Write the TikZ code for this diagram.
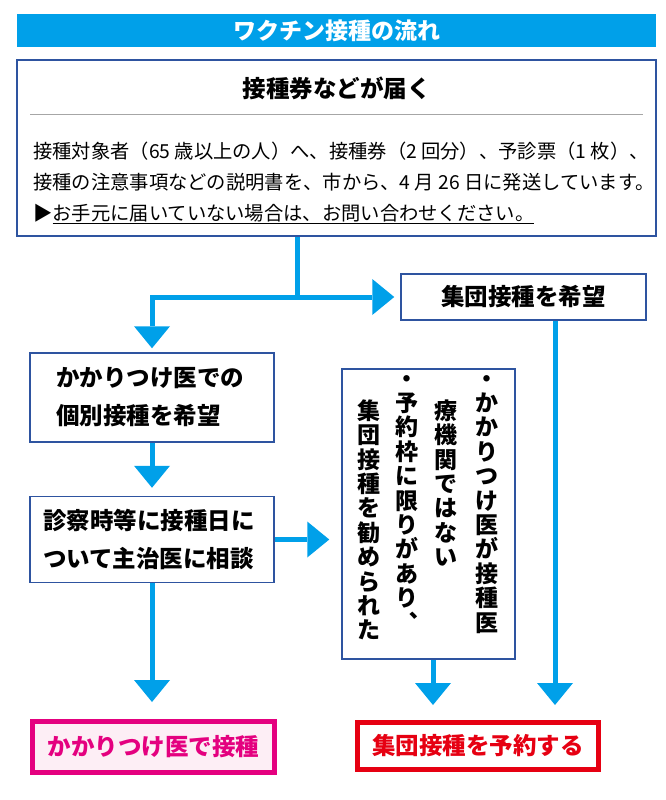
\documentclass[tikz,border=0pt]{standalone}
\usepackage{fontspec}
\usepackage{xcolor}
\usepackage{tikz}
\usetikzlibrary{positioning,arrows.meta}
\newfontfamily\jpfont{Noto Sans CJK JP}

\definecolor{flowcyan}{RGB}{0,160,233}
\definecolor{boxblue}{RGB}{46,84,160}
\definecolor{shotpink}{RGB}{228,0,127}
\definecolor{shotpinkbg}{RGB}{253,238,245}
\definecolor{bookred}{RGB}{230,0,18}

\begin{document}
\begin{tikzpicture}[
			x=1pt, y=1pt,
			panel/.style={draw=boxblue, line width=1.5pt, fill=white, inner sep=0pt},
			stepbox/.style={draw=boxblue, line width=1.5pt, fill=white, align=left, inner ysep=0pt, minimum height=89pt, font=\jpfont\bfseries\fontsize{23.5}{38}\selectfont},
			goal/.style={line width=5pt, inner sep=0pt, font=\jpfont\bfseries\fontsize{23.5}{26}\selectfont},
			column/.style={anchor=north, align=center, inner sep=0pt, font=\jpfont\bfseries\fontsize{23}{24.4}\selectfont},
			link/.style={draw=flowcyan, line width=5pt},
			flow/.style={link, -{Triangle[length=22pt, width=36pt, line width=0pt]}}
			]
	\useasboundingbox (0,0) rectangle (666,-800);
	
	%% Título e aviso
	\node[fill=flowcyan, minimum width=639pt, minimum height=33pt, inner sep=0pt, text=white, font=\jpfont\bfseries\fontsize{23}{26}\selectfont] (banner) at (336.5,-30.5) {ワクチン接種の流れ};
	\node[panel, minimum width=639pt, minimum height=176pt] (notice) at (336.5,-148) {};
	\node[font=\jpfont\bfseries\fontsize{23.5}{26}\selectfont] (arrival) at (336.5,-88) {接種券などが届く};
	\draw[gray!70, line width=1pt] (30,-114) -- (643,-114);
	\node[anchor=west, align=left, inner sep=0pt, font=\jpfont\fontsize{19.3}{31}\selectfont] (details) at (33,-183) {接種対象者（65 歳以上の人）へ、接種券（2 回分）、予診票（1 枚）、\\接種の注意事項などの説明書を、市から、4 月 26 日に発送しています。\\▶\underline{お手元に届いていない場合は、お問い合わせください。}};
	
	%% Escolha
	\coordinate (split) at (297,-297);
	\node[panel, minimum width=245pt, minimum height=46pt, font=\jpfont\bfseries\fontsize{23.5}{26}\selectfont] (groupwish) at (523.5,-297) {集団接種を希望};
	\node[stepbox, text width=192pt, inner xsep=26pt] (clinicwish) at (152,-397.5) {かかりつけ医での\\個別接種を希望};
	\node[stepbox, text width=218pt, inner xsep=13pt, minimum height=86pt, below=53pt of clinicwish] (consult) {診察時等に接種日に\\ついて主治医に相談};
	
	%% Motivos (texto vertical)
	\node[panel, minimum width=173pt, minimum height=290pt] (reasons) at (428.5,-514) {};
	\node[column] (reasonA) at (487,-375) {・\\か\\か\\り\\つ\\け\\医\\が\\接\\種\\医};
	\node[column] (reasonB) at (446,-399.4) {療\\機\\関\\で\\は\\な\\い};
	\node[column] (reasonC) at (407,-375) {・\\予\\約\\枠\\に\\限\\り\\が\\あ\\り\\︑};
	\node[column] (reasonD) at (369,-399.4) {集\\団\\接\\種\\を\\勧\\め\\ら\\れ\\た};
	
	%% Resultados
	\node[goal, draw=shotpink, fill=shotpinkbg, text=shotpink, minimum width=242pt, minimum height=51pt] (clinicshot) at (153.5,-747) {かかりつけ医で接種};
	\node[goal, draw=bookred, fill=white, text=bookred, minimum width=241pt, minimum height=47pt] (groupbook) at (478,-746) {集団接種を予約する};
	
	%% Setas
	\draw[link] (notice.south -| split) -- (split);
	\draw[flow, shorten >=6pt] (split) -- (groupwish.west);
	\draw[flow, shorten >=4pt] (split) -| (clinicwish.north);
	\draw[flow, shorten >=8pt] (clinicwish.south) -- (consult.north);
	\draw[flow, shorten >=12pt] (consult.east) -- (consult.east -| reasons.west);
	\draw[flow, shorten >=17pt] (consult.south) -- (consult.south |- clinicshot.north);
	\draw[flow, shorten >=15pt] ([xshift=4.5pt]reasons.south) -- ([xshift=4.5pt]reasons.south |- groupbook.north);
	\draw[flow, shorten >=15pt] ([xshift=31.5pt]groupwish.south) -- ([xshift=31.5pt]groupwish.south |- groupbook.north);
	
\end{tikzpicture}
\end{document}
